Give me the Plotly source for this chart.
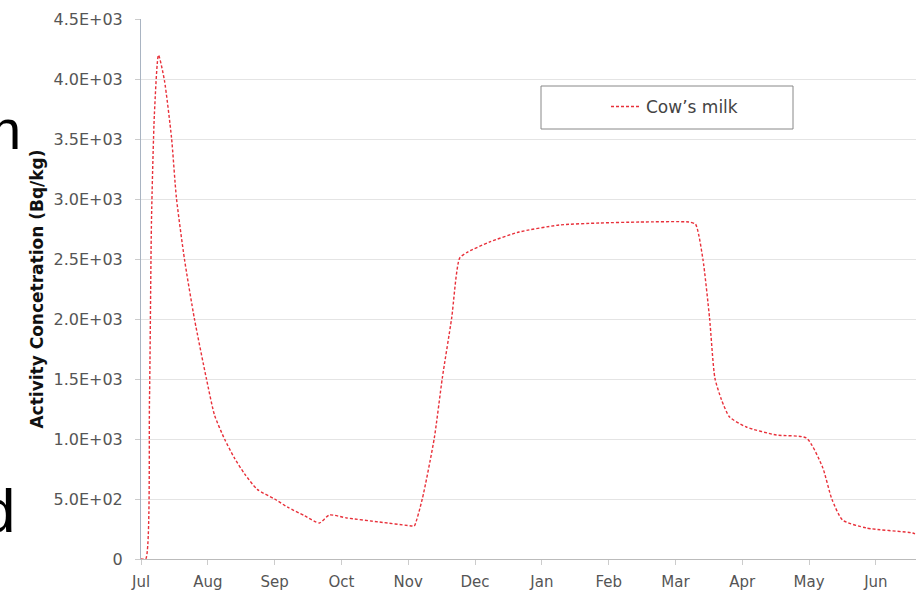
import plotly.graph_objects as go

# Month index (0 = start of July) and activity concentration in cow's milk (Bq/kg)
months = [0.0, 0.07, 0.127, 0.157, 0.20, 0.262, 0.35, 0.457, 0.53, 0.65, 0.80, 0.98,
          1.10, 1.25, 1.40, 1.55, 1.74, 2.0, 2.2, 2.45, 2.67, 2.82, 3.08, 3.57, 4.06, 4.09,
          4.21, 4.39, 4.51, 4.65, 4.77, 4.89, 5.22, 5.66, 6.26, 6.86, 7.46, 8.20, 8.30,
          8.41, 8.51, 8.59, 8.69, 8.81, 9.06, 9.51, 9.96, 10.2, 10.34, 10.5, 10.86, 11.55, 11.6]
activity = [0, 0, 1325, 2825, 3700, 4200, 3990, 3510, 3010, 2500, 2000, 1500,
            1200, 1000, 840, 710, 580, 500, 430, 360, 300, 367, 342, 308, 275, 275,
            500, 1008, 1508, 2008, 2508, 2558, 2642, 2725, 2783, 2800, 2808, 2808, 2790,
            2500, 2008, 1508, 1325, 1183, 1100, 1033, 1008, 767, 500, 325, 258, 217, 205]

month_labels = ["Jul", "Aug", "Sep", "Oct", "Nov", "Dec", "Jan", "Feb", "Mar", "Apr", "May", "Jun"]
y_ticks = [0, 500, 1000, 1500, 2000, 2500, 3000, 3500, 4000, 4500]
y_tick_text = ["0", "5.0E+02", "1.0E+03", "1.5E+03", "2.0E+03", "2.5E+03",
               "3.0E+03", "3.5E+03", "4.0E+03", "4.5E+03"]

fig = go.Figure()
fig.add_trace(go.Scatter(
    x=months, y=activity, mode="lines", name="Cow\u2019s milk",
    line=dict(color="#e8303a", width=1.4, dash="3px,2px", shape="spline", smoothing=0.6),
))

W, H = 916, 596
ml, mr, mt, mb = 141, 0, 19, 37
pw = W - ml - mr

def px_x(p):
    return (p - ml) / pw

fig.update_layout(
    width=W, height=H,
    margin=dict(l=ml, r=mr, t=mt, b=mb),
    paper_bgcolor="white", plot_bgcolor="white",
    font=dict(family="DejaVu Sans, Verdana, sans-serif", size=15, color="#555555"),
    showlegend=True,
    legend=dict(x=px_x(606), y=(559 - 89) / 540, xanchor="left", yanchor="top",
                bgcolor="rgba(0,0,0,0)", borderwidth=0,
                font=dict(size=17, color="#444444")),
    xaxis=dict(range=[0, 11.6], tickmode="array", tickvals=list(range(12)),
               ticktext=month_labels, showgrid=False, zeroline=False,
               showline=True, linecolor="#bbbbbb", linewidth=1,
               ticks="outside", ticklen=5, tickcolor="#cccccc",
               ticklabelstandoff=4, tickfont=dict(size=15)),
    yaxis=dict(range=[0, 4500], tickmode="array", tickvals=y_ticks, ticktext=y_tick_text,
               showgrid=True, gridcolor="#e4e4e4", gridwidth=1, zeroline=False,
               showline=True, linecolor="#a9b4c2", linewidth=1,
               ticks="outside", ticklen=5, tickcolor="#cccccc",
               ticklabelstandoff=9, tickfont=dict(size=16),
               title=dict(text="<b>Activity Concetration (Bq/kg)</b>",
                          font=dict(size=17, color="#111111"), standoff=5)),
)

# Legend frame
fig.add_shape(type="rect", xref="paper", yref="paper",
              x0=px_x(541), x1=px_x(793), y0=(559 - 129) / 540, y1=(559 - 86) / 540,
              line=dict(color="#888888", width=1), fillcolor="rgba(0,0,0,0)")

# Large slide text fragments along the left edge
fig.add_annotation(text="n", xref="paper", yref="paper", x=px_x(23), y=(559 - 96) / 540,
                   xanchor="right", yanchor="top", showarrow=False,
                   font=dict(family="Liberation Sans, Arial, sans-serif", size=56, color="#000000"))
fig.add_annotation(text="d", xref="paper", yref="paper", x=px_x(17), y=(559 - 474) / 540,
                   xanchor="right", yanchor="top", showarrow=False,
                   font=dict(family="Liberation Sans, Arial, sans-serif", size=62, color="#000000"))

fig.write_html("out.html")
